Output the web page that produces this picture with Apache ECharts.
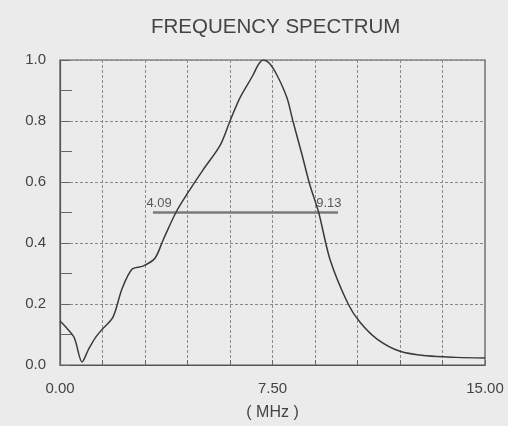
<!DOCTYPE html>
<html>
<head>
<meta charset="utf-8">
<script src="https://cdn.jsdelivr.net/npm/echarts@6/dist/echarts.min.js"></script>
<style>
  html, body { margin: 0; padding: 0; background: #ebebeb; }
  #spectrum { width: 508px; height: 426px; }
</style>
</head>
<body>
<div id="spectrum"></div>
<script>
// frequency (MHz) and normalised amplitude
const freq = [0, 0.18, 0.5, 0.78, 1.0, 1.25, 1.5, 1.87, 2.19, 2.54, 2.93, 3.35, 3.64, 4.09, 4.48, 5.05, 5.65, 6.0, 6.35, 6.81, 7.0, 7.17, 7.38, 7.66, 8.01, 8.22, 8.54, 8.82, 9.13, 9.53, 10.17, 10.59, 11.19, 12.0, 12.95, 14.0, 15.0];
const amp = [0.144, 0.127, 0.09, 0.01, 0.05, 0.09, 0.118, 0.157, 0.25, 0.314, 0.324, 0.35, 0.41, 0.5, 0.56, 0.64, 0.72, 0.80, 0.876, 0.95, 0.985, 1.0, 0.99, 0.95, 0.876, 0.80, 0.69, 0.59, 0.5, 0.346, 0.2, 0.14, 0.085, 0.045, 0.03, 0.025, 0.023];

// -6dB (half amplitude) bar
const halfBarX = [3.28, 9.81];
const halfLevel = 0.5;
const halfFreq = [4.09, 9.13];

const xLabelTicks = [0, 7.5, 15];

const barData = halfBarX.map(x => [x, halfLevel]);
const halfLabels = halfFreq.map((f, i) => ({
    value: [f, halfLevel],
    label: { position: i === 0 ? [-29, -15] : [-2, -15] }
}));

const chart = echarts.init(document.getElementById('spectrum'));
const txt = '#444';
const option = {
    backgroundColor: '#ebebeb',
    animation: false,
    textStyle: { fontFamily: 'Liberation Sans, Arial, sans-serif' },
    title: {
        text: 'FREQUENCY SPECTRUM',
        left: 146,
        top: 12,
        textStyle: { color: txt, fontSize: 20.5, fontWeight: 'normal', fontFamily: 'Liberation Sans' }
    },
    grid: {
        left: 60, right: 23, top: 60, bottom: 60,
        show: true, borderColor: '#555', borderWidth: 1.2
    },
    xAxis: {
        type: 'value',
        min: 0, max: 15, interval: 1.5,
        name: '( MHz )',
        nameLocation: 'middle',
        nameGap: 40,
        nameTextStyle: { color: txt, fontSize: 16 },
        axisLine: { lineStyle: { color: '#555', width: 1.2 } },
        axisTick: { show: true, inside: true, length: 5, lineStyle: { color: '#666' } },
        axisLabel: {
            color: txt, fontSize: 15, margin: 16,
            formatter: v => xLabelTicks.some(t => Math.abs(t - v) < 1e-6) ? v.toFixed(2) : ''
        },
        splitLine: { show: true, lineStyle: { color: '#8a8a8a', type: [3, 2], width: 1 } }
    },
    yAxis: {
        type: 'value',
        min: 0, max: 1, interval: 0.2,
        axisLine: { show: true, lineStyle: { color: '#555', width: 1.2 } },
        axisTick: { show: true, inside: true, length: 10, lineStyle: { color: '#666' } },
        minorTick: { show: true, splitNumber: 2, length: 12, lineStyle: { color: '#666' } },
        axisLabel: { color: txt, fontSize: 15, margin: 14, formatter: v => v.toFixed(1) },
        splitLine: { show: true, lineStyle: { color: '#8a8a8a', type: [3, 2], width: 1 } }
    },
    series: [
        {
            type: 'line',
            data: freq.map((f, i) => [f, amp[i]]),
            smooth: 0.3,
            showSymbol: false,
            lineStyle: { color: '#3a3a3a', width: 1.5 },
            z: 5
        },
        {
            type: 'line',
            data: barData,
            showSymbol: false,
            lineStyle: { color: '#7a7a7a', width: 2.5 },
            z: 4
        },
        {
            type: 'scatter',
            data: halfLabels,
            symbolSize: 1,
            itemStyle: { color: 'rgba(0,0,0,0)' },
            label: {
                show: true,
                formatter: p => p.value[0].toFixed(2),
                color: '#333', fontSize: 13, align: 'left'
            },
            z: 6
        }
    ]
};
chart.setOption(option);
window.onresize = () => { chart.resize(); };
</script>
</body>
</html>
